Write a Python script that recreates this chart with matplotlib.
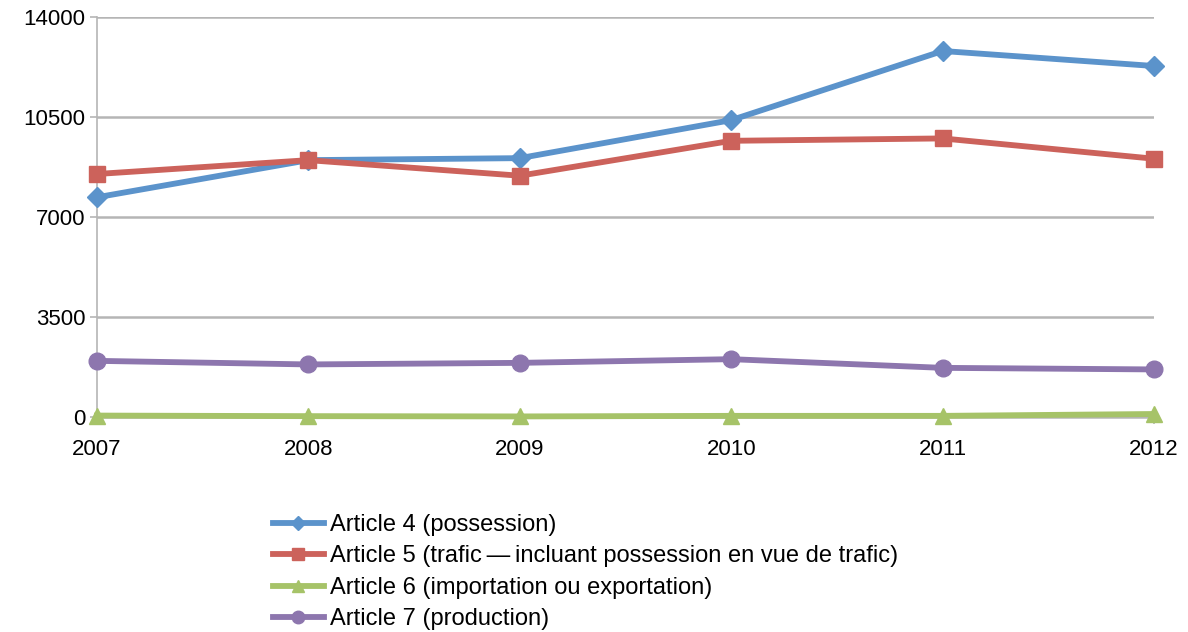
import matplotlib
matplotlib.use("Agg")
import matplotlib.pyplot as plt

years = ["2007", "2008", "2009", "2010", "2011", "2012"]
art4 = [7690, 8990, 9060, 10390, 12810, 12285]
art5 = [8505, 8990, 8445, 9667, 9750, 9040]
art6 = [50, 30, 20, 40, 40, 105]
art7 = [1965, 1840, 1895, 2024, 1720, 1665]
labels = ["Article 4 (possession)",
          "Article 5 (trafic\u2009\u2014\u2009incluant possession en vue de trafic)",
          "Article 6 (importation ou exportation)",
          "Article 7 (production)"]
yticks = [0, 3500, 7000, 10500, 14000]

plt.rcParams['font.family'] = ['Liberation Sans', 'DejaVu Sans']

fig = plt.figure(figsize=(11.88, 6.32), dpi=100)
ax = fig.add_axes([97/1188, 1-417/632, (1154-97)/1188, 400/632])

x = list(range(len(years)))
series = [
    (art4, "#5B93CB", "D", 10),
    (art5, "#CC625B", "s", 12),
    (art6, "#A6C368", "^", 12),
    (art7, "#8D76AE", "o", 12),
]
for (vals, col, mk, ms), lab in zip(series, labels):
    ax.plot(x, vals, color=col, lw=4.2, marker=mk, markersize=ms,
            label=lab, clip_on=False, zorder=3)

ax.set_xlim(0, 5)
ax.set_ylim(0, 14000)
ax.set_yticks(yticks)
ax.set_yticklabels([str(v) for v in yticks])
ax.set_xticks(x)
ax.set_xticklabels(years)
ax.grid(axis='y', color='#B5B5B5', lw=1.8)
ax.set_axisbelow(True)
for s in ['top', 'right']:
    ax.spines[s].set_visible(False)
ax.spines['left'].set_color('#B5B5B5')
ax.spines['left'].set_linewidth(1.2)
ax.spines['bottom'].set_color('#B5B5B5')
ax.spines['bottom'].set_linewidth(1.8)
ax.tick_params(axis='y', length=5, color='#B5B5B5', width=1.2, labelsize=16, pad=3.5)
ax.tick_params(axis='x', length=5, color='#B5B5B5', width=1.2, labelsize=16, pad=11)

fig.legend(loc='upper left', bbox_to_anchor=(273/1188, 1-514/632), frameon=False,
           fontsize=17, handlelength=2.15, handletextpad=0.25, labelspacing=0.4,
           markerscale=0.75, borderaxespad=0, borderpad=0)

fig.savefig("out.png", dpi=100)
